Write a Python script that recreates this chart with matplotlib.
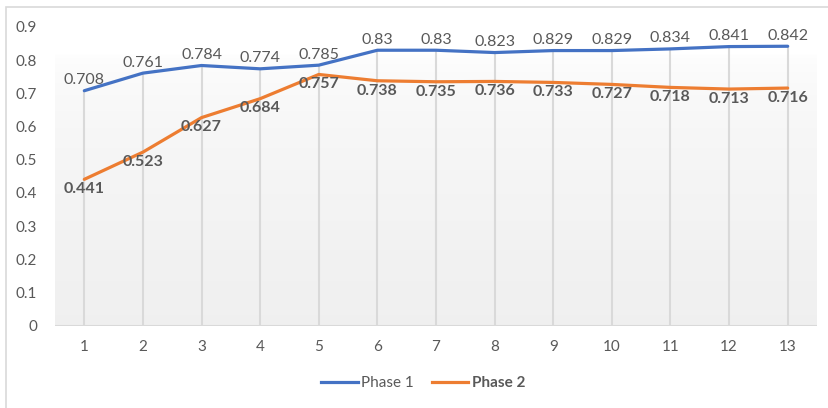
import numpy as np
import matplotlib
matplotlib.use("Agg")
import matplotlib.pyplot as plt
from matplotlib.patches import Rectangle
from matplotlib.lines import Line2D

plt.rcParams['font.family'] = ['Lato', 'DejaVu Sans']

categories = list(range(1, 14))
phase1 = [0.708, 0.761, 0.784, 0.774, 0.785, 0.83, 0.83, 0.823, 0.829, 0.829, 0.834, 0.841, 0.842]
phase2 = [0.441, 0.523, 0.627, 0.684, 0.757, 0.738, 0.735, 0.736, 0.733, 0.727, 0.718, 0.713, 0.716]
y_ticks = [0, 0.1, 0.2, 0.3, 0.4, 0.5, 0.6, 0.7, 0.8, 0.9]
series_names = ["Phase 1", "Phase 2"]

BLUE = "#4472C4"
ORANGE = "#ED7D31"
TEXT = "#595959"
GRID = "#D9D9D9"

W, H = 829, 408
fig = plt.figure(figsize=(W / 100, H / 100), dpi=100)

# outer chart frame
fig.patches.append(Rectangle((6 / W, -0.1), 1.2, (H - 7) / H + 0.1,
                             transform=fig.transFigure, fill=False,
                             edgecolor=GRID, linewidth=1.2))

ax = fig.add_axes([55 / W, (H - 325.7) / H, (817 - 55) / W, (325.7 - 27) / H])
ax.set_xlim(0.5, 13.5)
ax.set_ylim(0, 0.9)

# plot-area gradient: white at top fading to light grey at the bottom
grad = np.linspace(0, 1, 256).reshape(-1, 1)
top = np.array([1.0, 1.0, 1.0])
bot = np.array([0.94, 0.94, 0.94])
img = top + (bot - top) * grad[::-1] ** 0.5
img = np.repeat(img[:, None, :], 2, axis=1)
ax.imshow(img, extent=[0.5, 13.5, 0, 0.82], aspect='auto', zorder=0, origin='lower')

x = np.array(categories)
# drop lines from the upper series down to the axis
top_vals = np.maximum(phase1, phase2)
ax.vlines(x, 0, top_vals, color=GRID, linewidth=1.5, zorder=1)
ax.axhline(0, color=GRID, linewidth=1.5, zorder=1)

ax.plot(x, phase1, color=BLUE, linewidth=2.3, solid_joinstyle='round',
        solid_capstyle='round', zorder=3)
ax.plot(x, phase2, color=ORANGE, linewidth=2.3, solid_joinstyle='round',
        solid_capstyle='round', zorder=3)

for xi, v in zip(x, phase1):
    ax.annotate(f"{v:g}", (xi, v), xytext=(0, 2.5), textcoords='offset points',
                ha='center', va='bottom', fontsize=11.5, color=TEXT, zorder=4)
for xi, v in zip(x, phase2):
    ax.annotate(f"{v:g}", (xi, v), xytext=(0, -2), textcoords='offset points',
                ha='center', va='top', fontsize=11.5, color=TEXT,
                fontweight='bold', zorder=4)

ax.set_xticks(x)
ax.set_xticklabels([str(c) for c in categories])
ax.set_yticks(y_ticks)
ax.set_yticklabels([f"{t:g}" for t in y_ticks])
ax.tick_params(axis='both', length=0, labelsize=11, labelcolor=TEXT)
ax.tick_params(axis='x', pad=10)
ax.tick_params(axis='y', pad=13)
for s in ax.spines.values():
    s.set_visible(False)

handles = [Line2D([], [], color=BLUE, linewidth=2.3),
           Line2D([], [], color=ORANGE, linewidth=2.3)]
leg = fig.legend(handles, series_names, loc='center', bbox_to_anchor=(423 / W, (H - 383) / H),
                 ncol=2, frameon=False, fontsize=11, handlelength=2.4,
                 handletextpad=0.2, columnspacing=1.2)
for t in leg.get_texts():
    t.set_color(TEXT)
leg.get_texts()[1].set_fontweight('bold')

fig.savefig("out.png", dpi=100)
